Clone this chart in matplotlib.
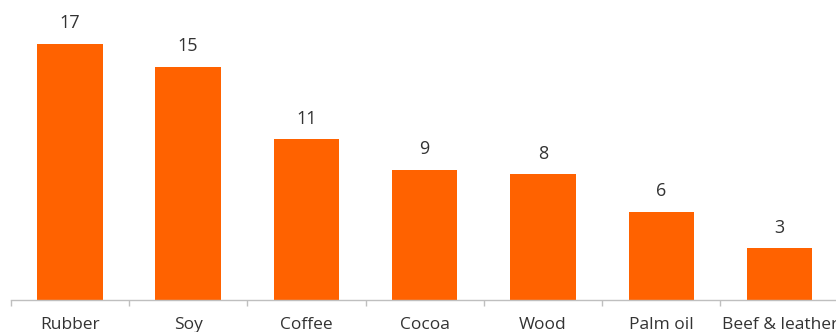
import matplotlib
matplotlib.use("Agg")
import matplotlib.pyplot as plt
import numpy as np

categories = ["Rubber", "Soy", "Coffee", "Cocoa", "Wood", "Palm oil", "Beef & leather"]
values = [16.9, 15.4, 10.6, 8.6, 8.3, 5.8, 3.4]

plt.rcParams['font.family'] = ['Open Sans', 'DejaVu Sans']

W, H = 837, 332
fig = plt.figure(figsize=(W / 100, H / 100), dpi=100)
left_px, right_px = 10.7, 838.8
bottom_px, top_px = 32, 332
ax = fig.add_axes([left_px / W, bottom_px / H, (right_px - left_px) / W, (top_px - bottom_px) / H])

x = np.arange(len(categories))
ax.bar(x, values, width=0.553, color="#FF6200", zorder=2)
for xi, v in zip(x, values):
    ax.annotate(f"{v:.0f}", (xi, v), xytext=(0, 11.3), textcoords="offset points",
                ha="center", va="baseline", fontsize=13, color="#333333")

ax.set_xlim(-0.5, len(categories) - 0.5)
ax.set_ylim(0, 300 / 15.15)
ax.set_yticks([])
ax.set_xticks(x)
ax.set_xticklabels(categories, fontsize=12.5, color="#333333")
ax.tick_params(axis="x", which="major", length=0, pad=12)
ax.set_xticks(np.arange(-0.5, len(categories) + 0.5, 1), minor=True)
ax.tick_params(axis="x", which="minor", length=4.5, width=1, color="#BFBFBF")
for s in ["top", "right", "left"]:
    ax.spines[s].set_visible(False)
ax.spines["bottom"].set_color("#BFBFBF")
ax.spines["bottom"].set_linewidth(1)
ax.patch.set_alpha(0)

fig.savefig("out.png", dpi=100)
